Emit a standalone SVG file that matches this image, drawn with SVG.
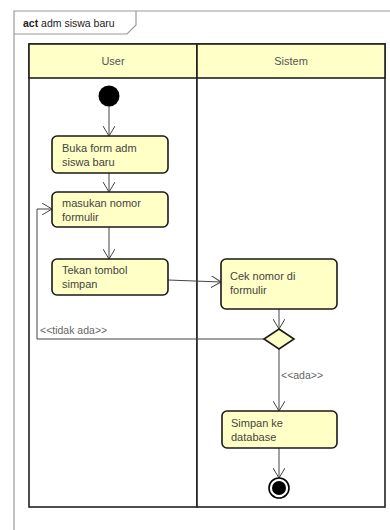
<svg xmlns="http://www.w3.org/2000/svg" width="390" height="530" viewBox="0 0 390 530">
  <style>
    .frame { fill: none; stroke: #9a9a9a; stroke-width: 1.2; }
    .lane { fill: #ffffff; stroke: #222; stroke-width: 1.6; }
    .head { fill: #ffffc8; stroke: #222; stroke-width: 1.6; }
    .act { fill: #ffffc6; stroke: #1a1a1a; stroke-width: 1.6; }
    .t { font-family: "Liberation Sans", Arial, sans-serif; font-size: 11px; fill: #444; }
    .hd { font-family: "Liberation Sans", Arial, sans-serif; font-size: 11px; fill: #555; text-anchor: middle; }
    .edge { fill: none; stroke: #444; stroke-width: 1; }
    .lbl { font-family: "Liberation Sans", Arial, sans-serif; font-size: 10.5px; fill: #666; }
  </style>
  <defs>
    <marker id="open" markerWidth="12" markerHeight="12" refX="10" refY="6" orient="auto" markerUnits="userSpaceOnUse">
      <path d="M0,0 L10,6 L0,12" fill="none" stroke="#444" stroke-width="1"/>
    </marker>
  </defs>
  <rect width="390" height="530" fill="#ffffff"/>

  <!-- diagram frame with name tab -->
  <g id="frame">
    <path class="frame" d="M14,530 L14,11 L392,11"/>
    <path class="frame" d="M14,34 L127,34 L136,25 L136,11"/>
    <text x="23" y="27" font-family="Liberation Sans, Arial, sans-serif" font-size="10.5" fill="#222"><tspan font-weight="bold">act</tspan> adm siswa baru</text>
  </g>

  <!-- swimlanes -->
  <g id="lane-user">
    <rect class="lane" x="29" y="44" width="168" height="463"/>
    <rect class="head" x="29" y="44" width="168" height="34"/>
    <text class="hd" x="113" y="65">User</text>
  </g>
  <g id="lane-sistem">
    <rect class="lane" x="197" y="44" width="188" height="463"/>
    <rect class="head" x="197" y="44" width="188" height="34"/>
    <text class="hd" x="291" y="65">Sistem</text>
  </g>

  <!-- connectors -->
  <g id="connectors">
    <line class="edge" x1="109" y1="106" x2="109" y2="136" marker-end="url(#open)"/>
    <line class="edge" x1="109" y1="173" x2="109" y2="192" marker-end="url(#open)"/>
    <line class="edge" x1="109" y1="227" x2="109" y2="259" marker-end="url(#open)"/>
    <line class="edge" x1="168" y1="280" x2="221" y2="282" marker-end="url(#open)"/>
    <line class="edge" x1="279" y1="309" x2="279" y2="329" marker-end="url(#open)"/>
    <line class="edge" x1="279" y1="349" x2="279" y2="411" marker-end="url(#open)"/>
    <line class="edge" x1="279" y1="448" x2="279" y2="478" marker-end="url(#open)"/>
    <polyline class="edge" points="265,339 37,339 37,209 52,209" marker-end="url(#open)"/>
    <text class="lbl" x="40" y="334">&lt;&lt;tidak ada&gt;&gt;</text>
    <text class="lbl" x="281" y="379">&lt;&lt;ada&gt;&gt;</text>
  </g>

  <!-- nodes -->
  <g id="start">
    <circle cx="109" cy="96" r="10.5" fill="#000"/>
  </g>
  <g id="buka-form">
    <rect class="act" x="52" y="136" width="116" height="37" rx="5"/>
    <text class="t" x="62" y="152">Buka form adm</text>
    <text class="t" x="62" y="166">siswa baru</text>
  </g>
  <g id="masukan-nomor">
    <rect class="act" x="52" y="192" width="116" height="35" rx="5"/>
    <text class="t" x="62" y="207">masukan nomor</text>
    <text class="t" x="62" y="221">formulir</text>
  </g>
  <g id="tekan-tombol">
    <rect class="act" x="52" y="259" width="116" height="36" rx="5"/>
    <text class="t" x="62" y="274">Tekan tombol</text>
    <text class="t" x="62" y="288">simpan</text>
  </g>
  <g id="cek-nomor">
    <rect class="act" x="221" y="259" width="116" height="50" rx="5"/>
    <text class="t" x="230" y="280">Cek nomor di</text>
    <text class="t" x="230" y="294">formulir</text>
  </g>
  <g id="decision">
    <polygon class="act" points="279,329 294,339 279,349 264,339"/>
  </g>
  <g id="simpan-database">
    <rect class="act" x="222" y="411" width="115" height="37" rx="5"/>
    <text class="t" x="231" y="427">Simpan ke</text>
    <text class="t" x="231" y="441">database</text>
  </g>
  <g id="end">
    <circle cx="279" cy="488" r="10" fill="#fff" stroke="#000" stroke-width="1.6"/>
    <circle cx="279" cy="488" r="7" fill="#000"/>
  </g>
</svg>
